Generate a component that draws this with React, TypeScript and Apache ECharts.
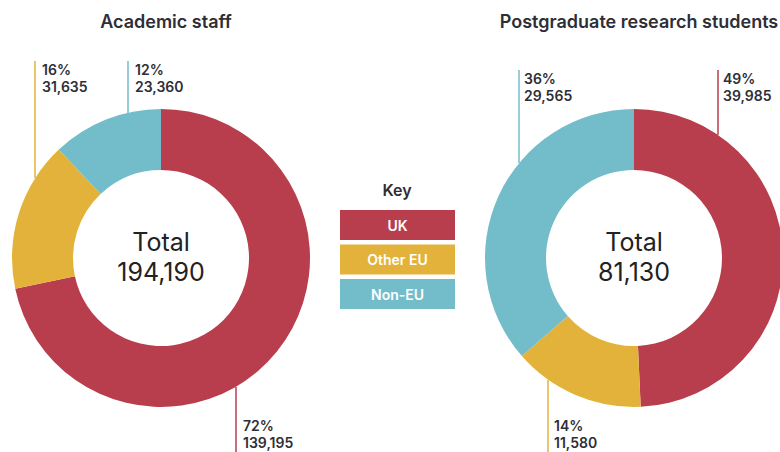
import React, { useEffect, useRef } from "react";
import * as echarts from "echarts";

const categories = ["UK", "Other EU", "Non-EU"];
const staffValues = [139195, 31635, 23360];
const studentValues = [39985, 11580, 29565];
const chartTitles = ["Academic staff", "Postgraduate research students"];
const colors = ["#B93E4D", "#E3B23A", "#73BDCA"];

const fmt = (n: number) => n.toLocaleString("en-US");
const sum = (a: number[]) => a.reduce((s, v) => s + v, 0);
const pct = (v: number, a: number[]) => Math.round((v / sum(a)) * 100) + "%";

const FONT = "Inter, 'Open Sans', sans-serif";
const TXT = "#2e2e36";

// label layout: [lineX, lineY1, lineY2, textX, textY]
const staffLayout = [
  [236, 387, 452, 243, 417],
  [35, 61, 178, 42, 61],
  [128, 61, 113, 135, 61],
];
const studentLayout = [
  [718, 70, 135, 723, 70],
  [548, 380, 452, 554, 417],
  [519, 70, 163, 524, 70],
];

export default function App() {
  const ref = useRef<HTMLDivElement>(null);
  useEffect(() => {
    const chart = echarts.init(ref.current!, null, { renderer: "svg" });
    const graphics: any[] = [];
    const addLabels = (values: number[], layout: number[][]) => {
      values.forEach((v, i) => {
        const [lx, y1, y2, tx, ty] = layout[i];
        graphics.push({
          type: "line",
          shape: { x1: lx, y1, x2: lx, y2 },
          style: { stroke: colors[i], lineWidth: 1.5 },
        });
        graphics.push({
          type: "text",
          x: tx,
          y: ty,
          style: {
            text: pct(v, values) + "\n" + fmt(v),
            font: `600 14px ${FONT}`,
            fill: TXT,
            lineHeight: 17,
          },
        });
      });
    };
    addLabels(staffValues, staffLayout);
    addLabels(studentValues, studentLayout);

    const centers = [
      [161, 258],
      [634, 258],
    ];
    [staffValues, studentValues].forEach((vals, k) => {
      graphics.push({
        type: "text",
        x: centers[k][0],
        y: 257,
        style: {
          text: "Total\n" + fmt(sum(vals)),
          font: `400 25px ${FONT}`,
          fill: "#222",
          align: "center",
          verticalAlign: "middle",
          lineHeight: 30,
        },
      });
    });

    // Key
    graphics.push({
      type: "text",
      x: 397,
      y: 190,
      style: {
        text: "Key",
        font: `600 16px ${FONT}`,
        fill: TXT,
        align: "center",
        verticalAlign: "middle",
      },
    });
    categories.forEach((c, i) => {
      const y = 210 + i * 34.5;
      graphics.push({
        type: "rect",
        shape: { x: 340, y, width: 115, height: 30 },
        style: { fill: colors[i] },
      });
      graphics.push({
        type: "text",
        x: 397.5,
        y: y + 15,
        style: {
          text: c,
          font: `600 14px ${FONT}`,
          fill: "#fff",
          align: "center",
          verticalAlign: "middle",
        },
      });
    });

    const mkSeries = (vals: number[], center: number[]) => ({
      type: "pie",
      center,
      radius: [88, 149],
      startAngle: 90,
      clockwise: true,
      label: { show: false },
      labelLine: { show: false },
      silent: true,
      data: vals.map((v, i) => ({
        name: categories[i],
        value: v,
        itemStyle: { color: colors[i] },
      })),
    });

    const titleStyle = { fontFamily: FONT, fontWeight: 600, fontSize: 18, color: TXT };
    chart.setOption({
      animation: false,
      backgroundColor: "#fff",
      title: [
        { text: chartTitles[0], left: 161, top: 7, textAlign: "center", textStyle: titleStyle },
        { text: chartTitles[1], left: 634, top: 7, textAlign: "center", textStyle: titleStyle },
      ],
      series: [mkSeries(staffValues, centers[0]), mkSeries(studentValues, centers[1])],
      graphic: graphics,
    });
    return () => chart.dispose();
  }, []);
  return (
    <div
      ref={ref}
      style={{ position: "fixed", left: 0, top: 0, width: 780, height: 452 }}
    />
  );
}
